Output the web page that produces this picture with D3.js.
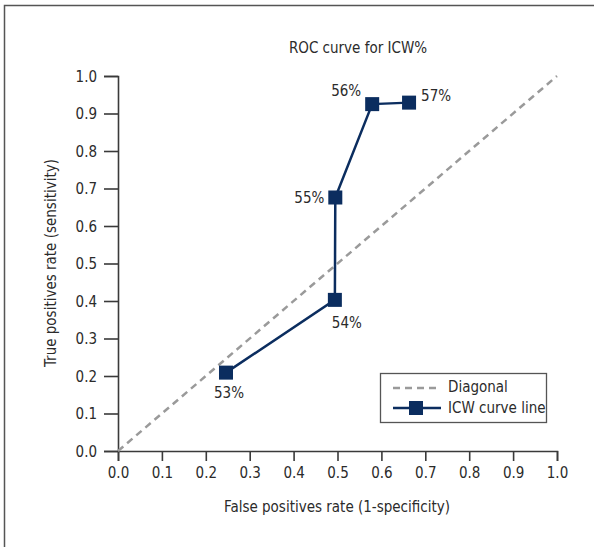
<!DOCTYPE html>
<html>
<head>
<meta charset="utf-8">
<script src="https://cdn.jsdelivr.net/npm/d3@7"></script>
<style>
  html, body { margin: 0; padding: 0; background: #fff; }
  svg text { font-family: "Liberation Sans Narrow", "DejaVu Sans Condensed", sans-serif; fill: #2b2b2b; }
</style>
</head>
<body>
<svg id="chart" width="594" height="547"></svg>
<script>
const pointLabels = ["53%", "54%", "55%", "56%", "57%"];
const fprValues = [0.246, 0.494, 0.495, 0.579, 0.663];
const tprValues = [0.209, 0.403, 0.676, 0.925, 0.929];
const diagonalX = [0, 1];
const diagonalY = [0, 1];
const tickValues = [0, 0.1, 0.2, 0.3, 0.4, 0.5, 0.6, 0.7, 0.8, 0.9, 1.0];
const titleText = "ROC curve for ICW%";
const xLabel = "False positives rate (1-specificity)";
const yLabel = "True positives rate (sensitivity)";
const legendLabels = ["Diagonal", "ICW curve line"];

const svg = d3.select("#chart");
const navy = "#0b2d5f";
const axisColor = "#3a3a3a";

// frame
svg.append("path")
  .attr("d", "M4.5,547 L4.5,5.5 L594,5.5")
  .attr("fill", "none").attr("stroke", "#555").attr("stroke-width", 1.5);

const x = d3.scaleLinear().domain([0, 1]).range([118, 557]);
const y = d3.scaleLinear().domain([0, 1]).range([451, 76]);

const fmt = d3.format(".1f");
const xAxis = svg.append("g").attr("transform", "translate(0,451)")
  .call(d3.axisBottom(x).tickValues(tickValues).tickFormat(fmt).tickSize(10).tickPadding(6));
const yAxis = svg.append("g").attr("transform", "translate(118,0)")
  .call(d3.axisLeft(y).tickValues(tickValues).tickFormat(fmt).tickSize(14).tickPadding(7));
[xAxis, yAxis].forEach(g => {
  g.select(".domain").attr("stroke", axisColor).attr("stroke-width", 1.6);
  g.selectAll(".tick line").attr("stroke", axisColor).attr("stroke-width", 1.6);
  g.selectAll(".tick text").style("font-size", "15px").attr("fill", "#2b2b2b");
});
yAxis.selectAll(".tick text").attr("dy", "0.35em");

// diagonal
svg.append("line")
  .attr("x1", x(diagonalX[0])).attr("y1", y(diagonalY[0]))
  .attr("x2", x(diagonalX[1])).attr("y2", y(diagonalY[1]))
  .attr("stroke", "#9a9a9a").attr("stroke-width", 2.5).attr("stroke-dasharray", "7,5");

// curve
const pts = fprValues.map((v, i) => ({ fx: v, ty: tprValues[i], label: pointLabels[i] }));
svg.append("path")
  .datum(pts)
  .attr("d", d3.line().x(d => x(d.fx)).y(d => y(d.ty)))
  .attr("fill", "none").attr("stroke", navy).attr("stroke-width", 2.5);

const ms = 14;
svg.selectAll("rect.marker").data(pts).enter().append("rect")
  .attr("class", "marker")
  .attr("x", d => x(d.fx) - ms / 2).attr("y", d => y(d.ty) - ms / 2)
  .attr("width", ms).attr("height", ms).attr("fill", navy);

// point labels: offsets per point
const labelPos = [
  { dx: 3, dy: 21, anchor: "middle" },
  { dx: 12, dy: 24, anchor: "middle" },
  { dx: -11, dy: 1, anchor: "end" },
  { dx: -11, dy: -13, anchor: "end" },
  { dx: 12, dy: -6, anchor: "start" }
];
svg.selectAll("text.plabel").data(pts).enter().append("text")
  .attr("class", "plabel")
  .attr("x", (d, i) => x(d.fx) + labelPos[i].dx)
  .attr("y", (d, i) => y(d.ty) + labelPos[i].dy)
  .attr("text-anchor", (d, i) => labelPos[i].anchor)
  .attr("dominant-baseline", "middle")
  .style("font-size", "15px")
  .text(d => d.label);

// title
svg.append("text").attr("x", 358).attr("y", 53).attr("text-anchor", "middle")
  .style("font-size", "15px").text(titleText);

// axis labels
svg.append("text").attr("x", 337).attr("y", 512).attr("text-anchor", "middle")
  .style("font-size", "15px").text(xLabel);
svg.append("text").attr("transform", "translate(56,263) rotate(-90)").attr("text-anchor", "middle")
  .style("font-size", "15px").text(yLabel);

// legend
const lg = svg.append("g");
lg.append("rect").attr("x", 380.5).attr("y", 373.5).attr("width", 166).attr("height", 49)
  .attr("fill", "#fff").attr("stroke", "#555").attr("stroke-width", 1.3);
lg.append("line").attr("x1", 393).attr("x2", 441).attr("y1", 388).attr("y2", 388)
  .attr("stroke", "#9a9a9a").attr("stroke-width", 2.5).attr("stroke-dasharray", "7,5");
lg.append("line").attr("x1", 393).attr("x2", 441).attr("y1", 408).attr("y2", 408)
  .attr("stroke", navy).attr("stroke-width", 2.5);
lg.append("rect").attr("x", 416 - 7).attr("y", 408 - 7).attr("width", 14).attr("height", 14).attr("fill", navy);
lg.selectAll("text.leg").data(legendLabels).enter().append("text")
  .attr("class", "leg")
  .attr("x", 448).attr("y", (d, i) => 387 + i * 21)
  .attr("dominant-baseline", "middle")
  .style("font-size", "15px").text(d => d);
</script>
</body>
</html>
